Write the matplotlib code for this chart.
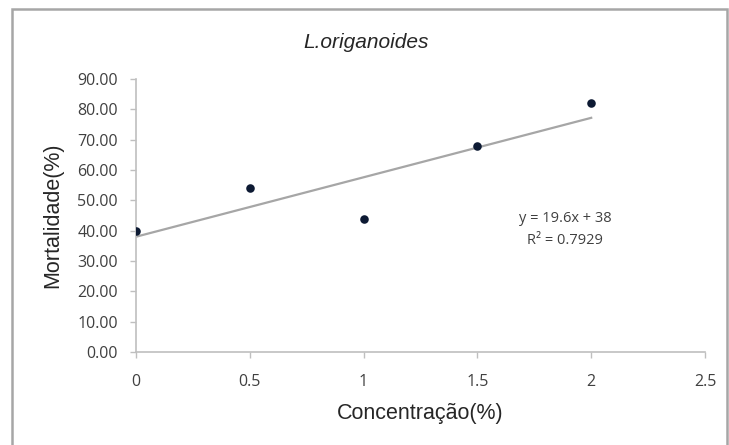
import matplotlib
matplotlib.use("Agg")
import matplotlib.pyplot as plt
import numpy as np
from matplotlib.patches import Rectangle

concentration = [0, 0.5, 1, 1.5, 2]
mortality = [40, 54, 44, 68, 82]
x_ticks = [0, 0.5, 1, 1.5, 2, 2.5]
x_tick_labels = ["0", "0.5", "1", "1.5", "2", "2.5"]
y_ticks = [0, 10, 20, 30, 40, 50, 60, 70, 80, 90]
title = "L.origanoides"
xlabel = "Concentração(%)"
ylabel = "Mortalidade(%)"

W, H = 729, 445
fig = plt.figure(figsize=(W / 100, H / 100), dpi=100)
fig.patch.set_facecolor("white")
fig.patches.append(Rectangle((12 / W, 1 - 460 / H), (727 - 12) / W, (460 - 9) / H,
                             transform=fig.transFigure, fill=False,
                             edgecolor="#a6a6a6", linewidth=1.8))

ax = fig.add_axes([136 / W, 1 - 352 / H, (705 - 136) / W, (352 - 79) / H])
slope, intercept = np.polyfit(concentration, mortality, 1)
pred = np.polyval([slope, intercept], concentration)
r2 = 1 - np.sum((np.array(mortality) - pred) ** 2) / np.sum((np.array(mortality) - np.mean(mortality)) ** 2)
xs = np.array([concentration[0], concentration[-1]])
ax.plot(xs, slope * xs + intercept, color="#a6a6a6", linewidth=1.6, zorder=2)
ax.scatter(concentration, mortality, s=38, color="#0d1a33", zorder=3, linewidths=0)

ax.set_xlim(0, 2.5)
ax.set_ylim(0, 90)
ax.set_xticks(x_ticks)
ax.set_xticklabels(x_tick_labels)
ax.set_yticks(y_ticks)
ax.set_yticklabels([f"{v:.2f}" for v in y_ticks])
for s in ["top", "right"]:
    ax.spines[s].set_visible(False)
for s in ["left", "bottom"]:
    ax.spines[s].set_color("#bfbfbf")
    ax.spines[s].set_linewidth(1.2)
ax.tick_params(axis="both", colors="#bfbfbf", length=4, width=1, labelsize=11.5,
               labelcolor="#404040")
for lab in ax.get_xticklabels() + ax.get_yticklabels():
    lab.set_family("Open Sans")
ax.tick_params(axis="x", pad=12)
ax.tick_params(axis="y", pad=9)

ax.set_xlabel(xlabel, fontsize=15.5, family="Liberation Sans", color="#262626", labelpad=9)
ax.set_ylabel(ylabel, fontsize=15.5, family="Liberation Sans", color="#262626", labelpad=10)
fig.text(366 / W, 1 - 42 / H, title, fontsize=15, style="italic", family="Liberation Sans",
         color="#262626", ha="center", va="center")
fig.text(565 / W, 1 - 218 / H, f"y = {slope:.1f}x + {intercept:.0f}", fontsize=10.5,
         family="Open Sans", color="#404040", ha="center", va="center")
fig.text(565 / W, 1 - 241 / H, f"R² = {r2:.4f}", fontsize=10.5,
         family="Open Sans", color="#404040", ha="center", va="center")

fig.savefig("out.png", dpi=100)
